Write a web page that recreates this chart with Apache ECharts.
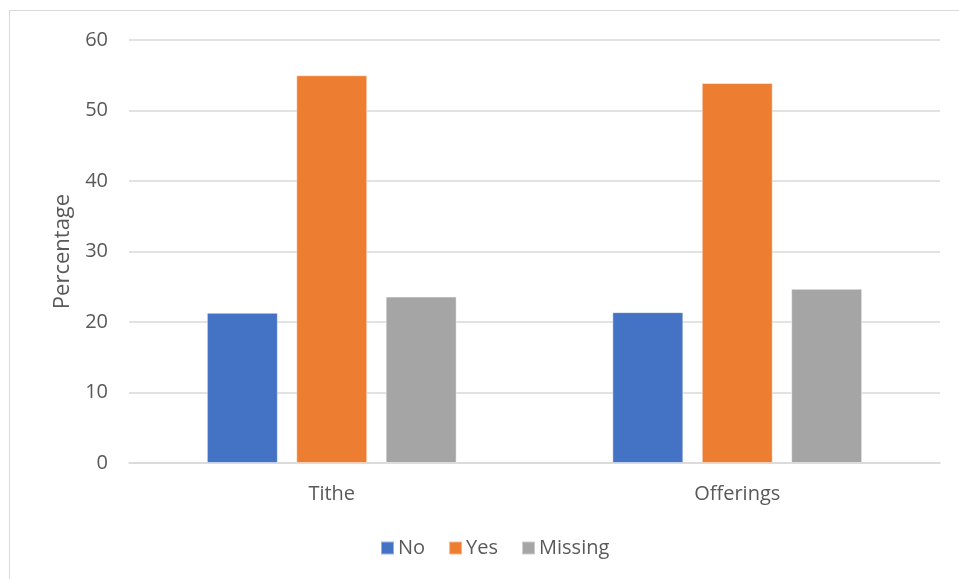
<!DOCTYPE html>
<html>
<head>
<meta charset="utf-8">
<script src="https://cdn.jsdelivr.net/npm/echarts@6/dist/echarts.min.js"></script>
<style>
  html, body { margin: 0; padding: 0; background: #fff; }
  #frame { position: absolute; left: 9px; top: 10px; width: 960px; height: 580px; border: 1px solid #d9d9d9; box-sizing: border-box; }
  #chart { position: absolute; left: 0; top: 0; width: 959px; height: 579px; }
</style>
</head>
<body>
<div id="frame"></div>
<div id="chart"></div>
<script>
// Share of respondents by giving type
const categories = ['Tithe', 'Offerings'];
const noValues = [21.3, 21.4];
const yesValues = [55.0, 53.9];
const missingValues = [23.6, 24.7];
const yTicks = { min: 0, max: 60, interval: 10 };

const font = 'Open Sans, Noto Sans, sans-serif';
const textColor = '#595959';

const chart = echarts.init(document.getElementById('chart'));
const barStyle = (color) => ({ color: color, borderColor: 'rgba(255,255,255,0.45)', borderWidth: 1 });

chart.setOption({
  animation: false,
  grid: { left: 129, right: 19, top: 40, bottom: 116 },
  legend: {
    top: 533,
    left: 375,
    itemWidth: 13,
    itemHeight: 13,
    itemGap: 23,
    icon: 'rect',
    textStyle: { color: textColor, fontSize: 20, fontFamily: font, padding: [0, 0, 0, -1] },
    data: ['No', 'Yes', 'Missing']
  },
  xAxis: {
    type: 'category',
    data: categories,
    axisLine: { lineStyle: { color: '#d9d9d9', width: 1.5 } },
    axisTick: { show: false },
    axisLabel: { color: textColor, fontSize: 20, fontFamily: font, margin: 21 }
  },
  yAxis: {
    type: 'value',
    min: yTicks.min,
    max: yTicks.max,
    interval: yTicks.interval,
    name: 'Percentage',
    nameLocation: 'middle',
    nameGap: 54,
    nameTextStyle: { color: textColor, fontSize: 22, fontFamily: font },
    axisLine: { show: false },
    axisTick: { show: false },
    axisLabel: { color: textColor, fontSize: 20, fontFamily: font, margin: 21 },
    splitLine: { lineStyle: { color: '#d9d9d9', width: 1.5 } }
  },
  series: [
    { name: 'No', type: 'bar', data: noValues, barWidth: '17.5%', barGap: '26%', itemStyle: barStyle('#4472c4') },
    { name: 'Yes', type: 'bar', data: yesValues, barWidth: '17.5%', barGap: '26%', itemStyle: barStyle('#ed7d31') },
    { name: 'Missing', type: 'bar', data: missingValues, barWidth: '17.5%', barGap: '26%', itemStyle: barStyle('#a5a5a5') }
  ]
});
</script>
</body>
</html>
